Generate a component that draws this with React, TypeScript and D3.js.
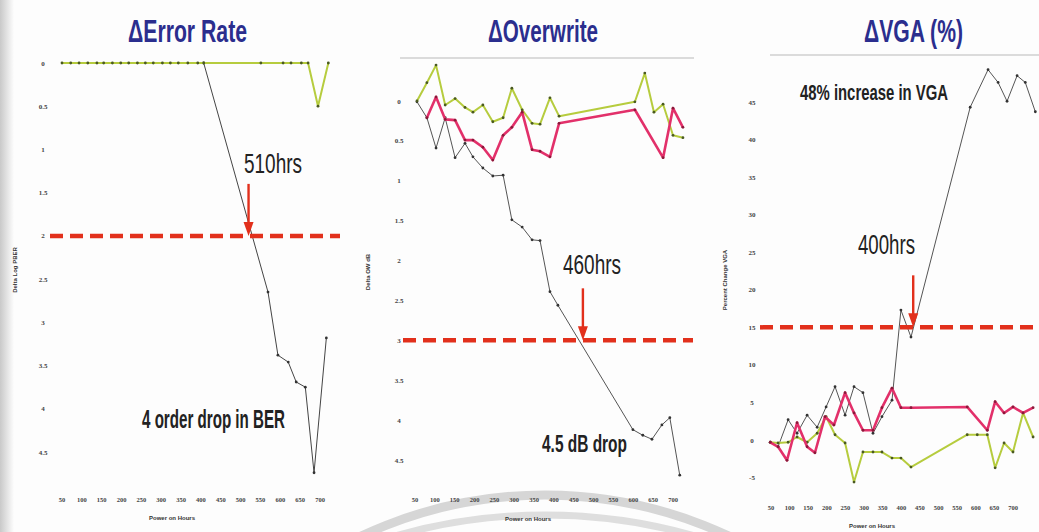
import React from "react";
import * as d3 from "d3";

// x axis: power on hours
const hourTicks = [50, 100, 150, 200, 250, 300, 350, 400, 450, 500, 550, 600, 650, 700];

// panel titles, axis titles and notes
const panelTitles = ["ΔError Rate", "ΔOverwrite", "ΔVGA (%)"];
const yTitles = ["Delta Log PBER", "Delta OW dB", "Percent Change VGA"];
const crossLabels = ["510hrs", "460hrs", "400hrs"];
const notes = ["4 order drop in BER", "4.5 dB drop", "48% increase in VGA"];
const triggerLimits = [2, 3, 15];
const crossHours = [520, 473, 432];

// panel 1 - delta error rate (drop in log BER)
const berTicks = [0, 0.5, 1, 1.5, 2, 2.5, 3, 3.5, 4, 4.5];
const berGreenHours = [50, 72, 93, 115, 138, 155, 177, 198, 218, 240, 260, 280, 303, 323, 343, 367, 392, 407, 551, 607, 627, 653, 670, 695, 721];
const berGreen = [0, 0, 0, 0, 0, 0, 0, 0, 0, 0, 0, 0, 0, 0, 0, 0, 0, 0, 0, 0, 0, 0, 0, 0.5, 0];
const berBlackHours = [407, 569, 594, 620, 640, 663, 685, 716];
const berBlack = [0, 2.65, 3.38, 3.46, 3.69, 3.75, 4.74, 3.18];

// panel 2 - delta overwrite (dB drop)
const owTicks = [0, 0.5, 1, 1.5, 2, 2.5, 3, 3.5, 4, 4.5];
const owGreenHours = [55, 80, 103, 126, 151, 176, 196, 221, 246, 272, 294, 320, 345, 365, 390, 413, 604, 629, 652, 675, 700, 725];
const owGreen = [0, -0.23, -0.45, 0.05, -0.03, 0.08, 0.14, 0.05, 0.26, 0.21, -0.16, 0.11, 0.28, 0.29, -0.04, 0.19, 0.01, -0.35, 0.14, 0.04, 0.43, 0.46];
const owPinkHours = [80, 103, 126, 151, 176, 196, 221, 246, 272, 294, 320, 345, 365, 390, 413, 604, 675, 700, 725];
const owPink = [0.21, -0.05, 0.23, 0.24, 0.49, 0.49, 0.58, 0.74, 0.43, 0.33, 0.14, 0.61, 0.63, 0.7, 0.28, 0.11, 0.71, 0.09, 0.33];
const owGrayHours = [55, 80, 103, 126, 151, 176, 196, 221, 246, 272, 294, 320, 345, 365, 390, 410, 599, 624, 647, 672, 692, 717];
const owGray = [0.01, 0.21, 0.59, 0.21, 0.71, 0.53, 0.7, 0.84, 0.94, 0.93, 1.49, 1.58, 1.74, 1.75, 2.39, 2.56, 4.12, 4.19, 4.24, 4.06, 3.97, 4.69];

// panel 3 - percent change in VGA
const vgaTicks = [45, 40, 35, 30, 25, 20, 15, 10, 5, 0, -5];
const vgaGrayHours = [48, 69, 96, 120, 147, 174, 198, 222, 249, 273, 297, 324, 348, 375, 399, 426, 585, 633, 660, 684, 711, 733, 760];
const vgaGray = [-0.3, -0.9, 2.7, 0.9, 3.3, 1.7, 4.4, 7.1, 3.3, 7.1, 6.3, 0.9, 3.1, 5.3, 17.3, 13.7, 44.3, 49.3, 47.6, 45.1, 48.5, 47.6, 43.7];
const vgaPinkHours = [48, 69, 93, 120, 147, 168, 195, 219, 249, 273, 297, 324, 348, 375, 399, 426, 577, 631, 652, 676, 700, 727, 754];
const vgaPink = [-0.3, -0.9, -2.7, 2.3, -0.9, -1.7, 3.1, 2.0, 6.3, 3.6, 1.3, 1.3, 4.3, 6.9, 4.3, 4.3, 4.4, 1.3, 5.1, 3.6, 4.4, 3.6, 4.3];
const vgaGreenHours = [48, 69, 96, 120, 147, 174, 198, 222, 249, 273, 297, 324, 348, 375, 399, 426, 577, 604, 631, 652, 676, 700, 727, 754];
const vgaGreen = [-0.3, -0.4, -0.3, 0.4, -0.3, 0.9, 3.1, 0.7, -0.4, -5.6, -1.6, -1.6, -1.6, -2.4, -2.4, -3.6, 0.7, 0.7, 0.7, -3.7, -0.4, -1.6, 3.6, 0.4];

const GREEN = "#b6cc3e";
const PINK = "#e2306a";
const GRAY = "#555";
const RED = "#e2301c";
const NAVY = "#2b2e8e";
const NARROW = "'Liberation Sans Narrow', 'Arial Narrow', 'Liberation Sans', Arial, sans-serif";

interface Series {
  hours: number[];
  values: number[];
  color: string;
  width: number;
  dot: string;
}

interface PanelProps {
  idx: number;
  xRange: [number, number];
  yDomain: [number, number];
  yRange: [number, number];
  yTicks: number[];
  series: Series[];
  limitX: [number, number];
  tickX: number;
  tickY: number;
  yTitleX: number;
  yTitleY: number;
  xTitleX: number;
  xTitleY: number;
  title: { x: number; w: number };
  rule?: [number, number, number];
  crossText: { x: number; y: number; w: number };
  note: { x: number; y: number; w: number; size: number };
}

const Panel = (p: PanelProps) => {
  const x = d3.scaleLinear().domain([50, 700]).range(p.xRange);
  const y = d3.scaleLinear().domain(p.yDomain).range(p.yRange);
  const line = d3
    .line<[number, number]>()
    .x((d) => x(d[0]))
    .y((d) => y(d[1]));
  const limitY = y(triggerLimits[p.idx]);
  const ax = x(crossHours[p.idx]);

  return (
    <g>
      {/* title */}
      <text
        x={p.title.x}
        y={42}
        fontFamily={NARROW}
        fontWeight="bold"
        fontSize={31}
        fill={NAVY}
        textLength={p.title.w}
        lengthAdjust="spacingAndGlyphs"
      >
        {panelTitles[p.idx]}
      </text>
      {p.rule && (
        <line x1={p.rule[0]} x2={p.rule[1]} y1={p.rule[2]} y2={p.rule[2]} stroke="#cfcfcf" strokeWidth={1.6} />
      )}

      {/* y tick labels */}
      {p.yTicks.map((t) => (
        <text
          key={t}
          x={p.tickX}
          y={y(t) + 2.5}
          textAnchor="middle"
          fontFamily="'Liberation Serif', serif"
          fontWeight="bold"
          fontSize={7}
          fill="#444"
        >
          {t}
        </text>
      ))}
      {/* x tick labels */}
      {hourTicks.map((t) => (
        <text
          key={t}
          x={x(t)}
          y={p.tickY}
          textAnchor="middle"
          fontFamily="'Liberation Serif', serif"
          fontWeight="bold"
          fontSize={6.5}
          fill="#444"
        >
          {t}
        </text>
      ))}
      <text
        x={p.xTitleX}
        y={p.xTitleY}
        textAnchor="middle"
        fontFamily="'Liberation Sans', Arial, sans-serif"
        fontWeight="bold"
        fontSize={6}
        fill="#333"
      >
        Power on Hours
      </text>
      <text
        transform={`translate(${p.yTitleX},${p.yTitleY}) rotate(-90)`}
        textAnchor="middle"
        fontFamily="'Liberation Sans', Arial, sans-serif"
        fontWeight="bold"
        fontSize={6}
        fill="#333"
      >
        {yTitles[p.idx]}
      </text>

      {/* series */}
      {p.series.map((s, i) => {
        const pts = s.hours.map((h, j) => [h, s.values[j]] as [number, number]);
        return (
          <g key={i}>
            <path d={line(pts) || ""} fill="none" stroke={s.color} strokeWidth={s.width} strokeLinejoin="round" />
            {pts.map((d, j) => (
              <circle key={j} cx={x(d[0])} cy={y(d[1])} r={1.4} fill={s.dot} />
            ))}
          </g>
        );
      })}

      {/* trigger limit */}
      <line
        x1={p.limitX[0]}
        x2={p.limitX[1]}
        y1={limitY}
        y2={limitY}
        stroke={RED}
        strokeWidth={4.5}
        strokeDasharray="13 7"
      />

      {/* crossing arrow */}
      <line x1={ax} x2={ax} y1={limitY - 52} y2={limitY - 10} stroke={RED} strokeWidth={2.4} />
      <path d={`M${ax - 5},${limitY - 14}L${ax + 5},${limitY - 14}L${ax},${limitY}Z`} fill={RED} />
      <text
        x={p.crossText.x}
        y={p.crossText.y}
        fontFamily={NARROW}
        fontSize={27}
        fill="#222"
        textLength={p.crossText.w}
        lengthAdjust="spacingAndGlyphs"
      >
        {crossLabels[p.idx]}
      </text>
      <text
        x={p.note.x}
        y={p.note.y}
        fontFamily={NARROW}
        fontWeight="bold"
        fontSize={p.note.size}
        fill="#222"
        textLength={p.note.w}
        lengthAdjust="spacingAndGlyphs"
      >
        {notes[p.idx]}
      </text>
    </g>
  );
};

export default function App() {
  return (
    <svg
      width={1039}
      height={532}
      style={{ position: "absolute", left: 0, top: 0, background: "#fdfdfd" }}
    >
      <defs>
        <linearGradient id="edge" x1="0" x2="1" y1="0" y2="0">
          <stop offset="0" stopColor="#c9c9c9" />
          <stop offset="1" stopColor="#fdfdfd" />
        </linearGradient>
      </defs>
      <rect x={0} y={0} width={14} height={532} fill="url(#edge)" />

      {/* faint watermark arcs */}
      <circle cx={545} cy={927} r={432} fill="none" stroke="#d6d6d6" strokeWidth={9} />
      <circle cx={545} cy={1059} r={544} fill="none" stroke="#dedede" strokeWidth={7} />

      <Panel
        idx={0}
        xRange={[62, 320]}
        yDomain={[0, 4.5]}
        yRange={[63, 452]}
        yTicks={berTicks}
        series={[
          { hours: berBlackHours, values: berBlack, color: "#444", width: 1, dot: "#333" },
          { hours: berGreenHours, values: berGreen, color: GREEN, width: 2, dot: "#4a5a20" },
        ]}
        limitX={[50, 340]}
        tickX={43}
        tickY={502}
        yTitleX={17}
        yTitleY={270}
        xTitleX={172}
        xTitleY={520}
        title={{ x: 128, w: 119 }}
        crossText={{ x: 244, y: 173, w: 58 }}
        note={{ x: 142, y: 428, w: 143, size: 26 }}
      />
      <Panel
        idx={1}
        xRange={[415, 673]}
        yDomain={[0, 4.5]}
        yRange={[101, 460]}
        yTicks={owTicks}
        series={[
          { hours: owGrayHours, values: owGray, color: GRAY, width: 1, dot: "#333" },
          { hours: owGreenHours, values: owGreen, color: GREEN, width: 2, dot: "#4a5a20" },
          { hours: owPinkHours, values: owPink, color: PINK, width: 2.6, dot: "#8a1a3a" },
        ]}
        limitX={[403, 693]}
        tickX={399}
        tickY={502}
        yTitleX={370}
        yTitleY={272}
        xTitleX={528}
        xTitleY={521}
        title={{ x: 488, w: 110 }}
        rule={[400, 694, 58]}
        crossText={{ x: 563, y: 274, w: 58 }}
        note={{ x: 542, y: 452, w: 85, size: 24 }}
      />
      <Panel
        idx={2}
        xRange={[771, 1013]}
        yDomain={[0, 45]}
        yRange={[440, 102]}
        yTicks={vgaTicks}
        series={[
          { hours: vgaGrayHours, values: vgaGray, color: GRAY, width: 1, dot: "#333" },
          { hours: vgaGreenHours, values: vgaGreen, color: GREEN, width: 2, dot: "#4a5a20" },
          { hours: vgaPinkHours, values: vgaPink, color: PINK, width: 2.6, dot: "#8a1a3a" },
        ]}
        limitX={[760, 1039]}
        tickX={752}
        tickY={510}
        yTitleX={727}
        yTitleY={280}
        xTitleX={872}
        xTitleY={528}
        title={{ x: 864, w: 99 }}
        rule={[770, 1039, 55]}
        crossText={{ x: 858, y: 254, w: 57 }}
        note={{ x: 800, y: 100, w: 148, size: 22 }}
      />
    </svg>
  );
}
